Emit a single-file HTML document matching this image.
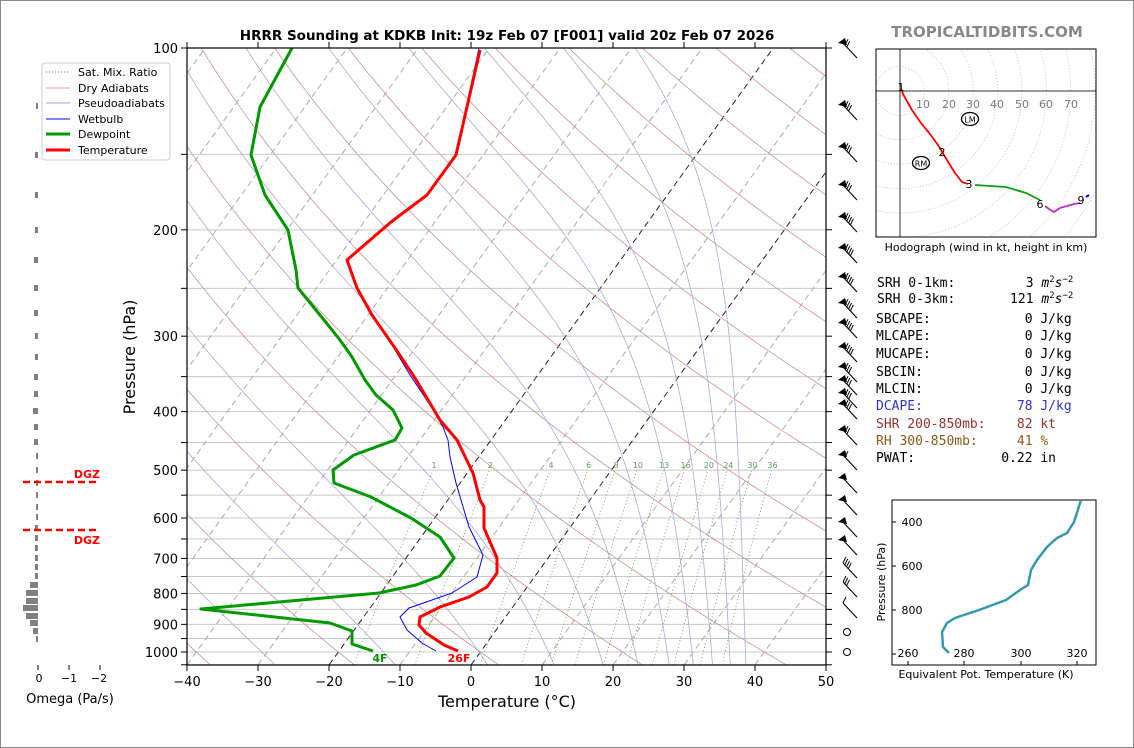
<!DOCTYPE html>
<html><head><meta charset="utf-8">
<style>
html,body{margin:0;padding:0;background:#fff}
svg{display:block}
text{font-family:"DejaVu Sans","Liberation Sans",sans-serif}
.mono{font-family:"DejaVu Sans Mono","Liberation Mono",monospace;font-size:13px;white-space:pre}
</style></head><body>
<svg id="s" width="1134" height="748" viewBox="0 0 1134 748" xmlns="http://www.w3.org/2000/svg">
<defs>
<clipPath id="cp"><rect x="187" y="48" width="639" height="617"/></clipPath>
<clipPath id="hc"><rect x="876" y="49" width="220" height="188"/></clipPath>
</defs>
<rect x="0.5" y="0.5" width="1133" height="747" fill="#fff" stroke="#888"/>
<g id="bg" clip-path="url(#cp)"></g>
<g id="data" clip-path="url(#cp)" fill="none" stroke-linejoin="round">
<polyline stroke="#0000ff" stroke-width="1" points="479,48 456,155 427,195 391,222 347,260 357,288 372,315 392,345 410,375 430,405 443,427 448,440 450,457 456,483 469,527 483,555 477,577 452,593 409,608 400,617 407,630 422,643 436,651"/>
<polyline stroke="#ff0000" stroke-width="3" points="480,50 456,155 427,195 391,222 347,260 357,288 372,315 395,348 415,378 440,420 457,440 473,473 480,500 484,507 484,528 497,558 497,573 487,587 469,597 440,607 420,617 419,625 426,633 444,645 458,651"/>
<polyline stroke="#009900" stroke-width="3" points="292,48 260,107 251,155 265,195 288,230 296,270 298,288 320,315 340,340 352,357 365,380 376,395 393,410 402,428 395,440 354,455 333,470 334,483 371,497 411,518 440,537 454,558 440,576 416,585 379,593 201,609 330,623 352,631 352,644 373,651"/>
</g>
<g id="ax"></g>
<rect x="187" y="48" width="639" height="617" fill="none" stroke="#000" stroke-width="1.2"/>
<text x="507" y="40" text-anchor="middle" font-size="13.5" font-weight="bold">HRRR Sounding at KDKB Init: 19z Feb 07 [F001] valid 20z Feb 07 2026</text>
<text x="987" y="37" text-anchor="middle" font-size="15" font-weight="bold" fill="#888">TROPICALTIDBITS.COM</text>
<text x="380" y="662" font-size="11" font-weight="bold" fill="#009900" text-anchor="middle">4F</text>
<text x="459" y="662" font-size="11" font-weight="bold" fill="#ff0000" text-anchor="middle">26F</text>
<text x="507" y="707" text-anchor="middle" font-size="16">Temperature (°C)</text>
<text transform="translate(135,357) rotate(-90)" text-anchor="middle" font-size="16">Pressure (hPa)</text>
<g font-size="8" fill="#5a9a5a" text-anchor="middle" id="mrl"></g>
<rect x="42" y="63" width="128" height="97" rx="3" fill="#fff" stroke="#ccc"/>
<g font-size="11">
<line x1="46" y1="72" x2="70" y2="72" stroke="#4a9a4a" stroke-dasharray="1,2"/><text x="78" y="76">Sat. Mix. Ratio</text>
<line x1="46" y1="88" x2="70" y2="88" stroke="#e0a0a0"/><text x="78" y="92">Dry Adiabats</text>
<line x1="46" y1="103" x2="70" y2="103" stroke="#a0a0e8"/><text x="78" y="107">Pseudoadiabats</text>
<line x1="46" y1="119" x2="70" y2="119" stroke="#0000ff"/><text x="78" y="123">Wetbulb</text>
<line x1="46" y1="134" x2="70" y2="134" stroke="#009900" stroke-width="3"/><text x="78" y="138">Dewpoint</text>
<line x1="46" y1="150" x2="70" y2="150" stroke="#ff0000" stroke-width="3"/><text x="78" y="154">Temperature</text>
</g>
<g id="om" fill="#808080"></g>
<line x1="23" y1="482" x2="99" y2="482" stroke="#ff0000" stroke-width="2.5" stroke-dasharray="7,4"/>
<line x1="23" y1="530" x2="99" y2="530" stroke="#ff0000" stroke-width="2.5" stroke-dasharray="7,4"/>
<text x="100" y="478" font-size="11" font-weight="bold" fill="#ff0000" text-anchor="end">DGZ</text>
<text x="100" y="544" font-size="11" font-weight="bold" fill="#ff0000" text-anchor="end">DGZ</text>
<g stroke="#000"><line x1="38" y1="665" x2="38" y2="670"/><line x1="69" y1="665" x2="69" y2="670"/><line x1="100" y1="665" x2="100" y2="670"/></g>
<g font-size="11" text-anchor="middle"><text x="39" y="682">0</text><text x="69" y="682">−1</text><text x="99" y="682">−2</text></g>
<text x="70" y="703" font-size="13" text-anchor="middle">Omega (Pa/s)</text>
<g id="barbs" stroke="#000" fill="#000"></g>
<circle cx="847" cy="632" r="3.5" fill="none" stroke="#000"/>
<circle cx="847" cy="652" r="3.5" fill="none" stroke="#000"/>
<g clip-path="url(#hc)" id="hod" fill="none"></g>
<rect x="876" y="49" width="220" height="188" fill="none" stroke="#000"/>
<g font-size="11" fill="#777" text-anchor="middle">
<text x="923" y="108">10</text><text x="949" y="108">20</text><text x="973" y="108">30</text><text x="997" y="108">40</text><text x="1022" y="108">50</text><text x="1046" y="108">60</text><text x="1071" y="108">70</text></g>
<g font-size="11" fill="#000" text-anchor="middle">
<text x="901" y="91">1</text><text x="942" y="156">2</text><text x="969" y="188">3</text><text x="1040" y="208">6</text><text x="1081" y="204">9</text></g>
<ellipse cx="970" cy="119" rx="8.5" ry="6.5" fill="#fff" stroke="#000" stroke-width="1.3"/><text x="970" y="122.5" font-size="8" text-anchor="middle">LM</text>
<ellipse cx="921" cy="163" rx="8.5" ry="6.5" fill="#fff" stroke="#000" stroke-width="1.3"/><text x="921" y="166.5" font-size="8" text-anchor="middle">RM</text>
<text x="986" y="251" font-size="11" text-anchor="middle">Hodograph (wind in kt, height in km)</text>
<g class="mono">
<text x="877" y="287" class="mono">SRH 0-1km:         3 <tspan font-style="italic">m</tspan><tspan font-size="9" dy="-5">2</tspan><tspan font-style="italic" dy="5">s</tspan><tspan font-size="9" dy="-5">−2</tspan></text>
<text x="877" y="303" class="mono">SRH 0-3km:       121 <tspan font-style="italic">m</tspan><tspan font-size="9" dy="-5">2</tspan><tspan font-style="italic" dy="5">s</tspan><tspan font-size="9" dy="-5">−2</tspan></text>
<text x="876" y="323" class="mono">SBCAPE:            0 J/kg</text>
<text x="876" y="340" class="mono">MLCAPE:            0 J/kg</text>
<text x="876" y="358" class="mono">MUCAPE:            0 J/kg</text>
<text x="876" y="376" class="mono">SBCIN:             0 J/kg</text>
<text x="876" y="393" class="mono">MLCIN:             0 J/kg</text>
<text x="876" y="410" class="mono" fill="#3333cc">DCAPE:            78 J/kg</text>
<text x="876" y="428" class="mono" fill="#9b2d2d">SHR 200-850mb:    82 kt</text>
<text x="876" y="445" class="mono" fill="#8b5a1a">RH 300-850mb:     41 %</text>
<text x="876" y="462" class="mono">PWAT:           0.22 in</text>
</g>
<rect x="892" y="500" width="204" height="165" fill="none" stroke="#000"/>
<polyline fill="none" stroke="#3399b0" stroke-width="2.5" points="1081,500 1074,522 1067,533 1057,538 1047,547 1037,560 1031,570 1028,585 1020,590 1006,600 979,610 955,618 947,623 942,632 943,647 949,653"/>
<g stroke="#000"><line x1="892" y1="522" x2="896" y2="522"/><line x1="892" y1="566" x2="896" y2="566"/><line x1="892" y1="610" x2="896" y2="610"/><line x1="892" y1="654" x2="896" y2="654"/>
<line x1="908" y1="665" x2="908" y2="661"/><line x1="964" y1="665" x2="964" y2="661"/><line x1="1021" y1="665" x2="1021" y2="661"/><line x1="1077" y1="665" x2="1077" y2="661"/></g>
<g font-size="11" text-anchor="middle"><text x="912" y="526">400</text><text x="912" y="570">600</text><text x="912" y="614">800</text>
<text x="908" y="657">260</text><text x="964" y="657">280</text><text x="1021" y="657">300</text><text x="1077" y="657">320</text></g>
<text x="986" y="678" font-size="11" text-anchor="middle">Equivalent Pot. Temperature (K)</text>
<text transform="translate(885,582) rotate(-90)" font-size="11" text-anchor="middle">Pressure (hPa)</text>
</svg>
<script>
(function(){
var NS="http://www.w3.org/2000/svg";
function el(par,tag,at){var e=document.createElementNS(NS,tag);for(var k in at)e.setAttribute(k,at[k]);par.appendChild(e);return e;}
function yP(p){return 48+604*Math.log10(p/100);}
function xT(T,p){return 187+7.1*(T+40)+0.72*(665-yP(p));}
var bg=document.getElementById('bg'),ax=document.getElementById('ax');
for(var p=100;p<=1050;p+=50){var y=yP(p);el(bg,'line',{x1:187,x2:826,y1:y,y2:y,stroke:'#c8c8c8','stroke-width':1});}
for(var T=-150;T<=50;T+=10){var b=(T==0||T==-20);el(bg,'line',{x1:xT(T,1050),y1:yP(1050),x2:xT(T,100),y2:yP(100),stroke:b?'#222':'#aaa','stroke-width':1,'stroke-dasharray':'6,4'});}
for(var th=-40;th<=220;th+=20){var pts=[];for(var p=1050;p>=100;p-=10){var T=(th+273.15)*Math.pow(p/1000,0.2857)-273.15;pts.push(xT(T,p).toFixed(1)+','+yP(p).toFixed(1));}
el(bg,'polyline',{points:pts.join(' '),fill:'none',stroke:'#d09090','stroke-width':0.8});}
function es(T){return 6.112*Math.exp(17.67*T/(T+243.5));}
function dTdp(T,p){var Tk=T+273.15,e=es(T),rs=0.622*e/(p-e),Lv=2.501e6,Rd=287,Cp=1005;
return (Rd*Tk+Lv*rs)/(Cp+Lv*Lv*rs*0.622/(Rd*Tk*Tk))/p;}
[-44.5,-27.6,-10.7,2.3,11.7,18.6,23.5,27.9,31.3,34,36.5,38.7].forEach(function(t0){var pts=[];var T=t0;
for(var p=1050;p>=100;p-=5){pts.push(xT(T,p).toFixed(1)+','+yP(p).toFixed(1));T-=dTdp(T,p)*5;}
el(bg,'polyline',{points:pts.join(' '),fill:'none',stroke:'#a8a8e0','stroke-width':0.8});});
var mrl=document.getElementById('mrl');
[1,2,4,6,8,10,13,16,20,24,30,36].forEach(function(w){var pts=[];
for(var p=1050;p>=500;p-=10){var e=w/1000*p/(0.622+w/1000),l=Math.log(e/6.112),Td=243.5*l/(17.67-l);pts.push(xT(Td,p).toFixed(1)+','+yP(p).toFixed(1));}
el(bg,'polyline',{points:pts.join(' '),fill:'none',stroke:'#4a9a4a','stroke-width':0.8,'stroke-dasharray':'1,2.5'});
var e=w/1000*500/(0.622+w/1000),l=Math.log(e/6.112),Td=243.5*l/(17.67-l);
var t=el(mrl,'text',{x:(xT(Td,500)+1).toFixed(1),y:468});t.textContent=w;});
for(var T=-40;T<=50;T+=10){var x=187+7.1*(T+40);
el(ax,'line',{x1:x,x2:x,y1:665,y2:671,stroke:'#000'});el(ax,'line',{x1:x,x2:x,y1:48,y2:42,stroke:'#000'});
var t=el(ax,'text',{x:x,y:686,'text-anchor':'middle','font-size':13});t.textContent=(T<0?'−'+(-T):T);}
for(var p=100;p<=1050;p+=50){var y=yP(p);
el(ax,'line',{x1:181,x2:187,y1:y,y2:y,stroke:'#000'});el(ax,'line',{x1:826,x2:832,y1:y,y2:y,stroke:'#000'});
if(p%100==0){var t=el(ax,'text',{x:178,y:y+5,'text-anchor':'end','font-size':13});t.textContent=p;}}
var om=document.getElementById('om');
[[106,2],[155,3],[195,3],[230,3],[260,4],[288,4],[313,4],[336,3],[357,3],[377,4],[394,4],[411,5],[427,4],[442,4],[456,2],[470,2],[483,2],[495,2],[507,2],[517,2],[528,3],[538,3],[548,3],[558,3],[567,3],[576,3],[585,8],[593,12],[601,12],[608,15],[616,12],[623,8],[631,5],[639,2]].forEach(function(a){el(om,'rect',{x:38-a[1],y:a[0]-3,width:a[1],height:6});});
var bb=document.getElementById('barbs');
function barb(y,f,n){el(bb,'line',{x1:843,y1:y,x2:857,y2:y+15,'stroke-width':1.1});
if(f){el(bb,'polygon',{points:'838,'+(y)+' 845,'+(y-5)+' 847,'+(y+2),stroke:'none'});}
var s=f?3:0;for(var i=0;i<n;i++){var k=s+i*2.6;var x0=843+k*0.68,y0=y+k*0.73;el(bb,'line',{x1:x0,y1:y0,x2:x0+3,y2:y0-6,'stroke-width':1});}}
[[43,1,2],[105,1,3],[147,1,3],[185,1,3],[217,1,4],[248,1,4],[277,1,4],[303,1,4],[323,1,4],[347,1,4],[367,1,3],[380,1,3],[393,1,3],[404,1,3],[430,1,2],[455,1,1],[478,1,0],[500,1,0],[522,1,0],[540,1,0],[563,0,4],[582,0,3],[603,0,1]].forEach(function(a){barb(a[0],a[1],a[2]);});
var h=document.getElementById('hod');
for(var k=1;k<=12;k++)el(h,'circle',{cx:900,cy:91,r:24.4*k,stroke:'#bbb','stroke-dasharray':'1,2','stroke-width':0.8});
el(h,'line',{x1:876,x2:1096,y1:91,y2:91,stroke:'#333'});el(h,'line',{x1:900,x2:900,y1:49,y2:237,stroke:'#333'});
el(h,'polyline',{points:'901,89 904,96 912,110 921,123 930,134 938,145 944,155 950,165 955,173 962,182 968,184',stroke:'#ff0000','stroke-width':1.8});
el(h,'polyline',{points:'975,185 1006,187 1026,193 1040,200',stroke:'#119911','stroke-width':1.8});
el(h,'polyline',{points:'1045,206 1049,209 1054,212 1060,208 1074,204 1080,203',stroke:'#bb33bb','stroke-width':1.8});
el(h,'polyline',{points:'1086,197 1089,195',stroke:'#0000ff','stroke-width':2});
})();
</script>
</body></html>
